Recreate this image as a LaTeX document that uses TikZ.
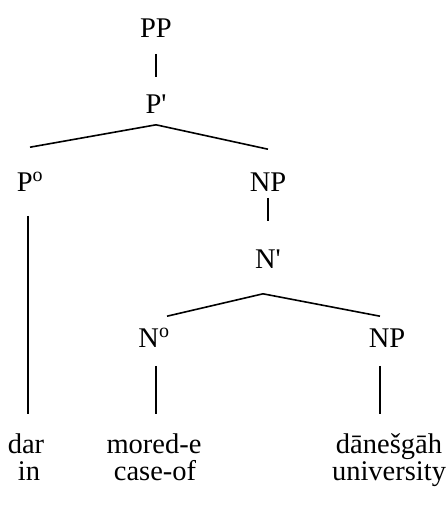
\documentclass[tikz,border=0pt]{standalone}
\usepackage{fontspec}
\setmainfont{Liberation Serif}
\usepackage{tikz}

\begin{document}
\begin{tikzpicture}[x=1pt, y=-1pt, line width=1.6pt,
    lbl/.style={inner sep=0pt, anchor=base, text height=20pt, text depth=0pt,
                font=\fontsize{28.5}{34}\selectfont}]
    % Canvas
    \useasboundingbox (0,0) rectangle (446,507);

    % Category labels
    \node[lbl] (pp)  at (156,37)  {PP};
    \node[lbl] (p1)  at (156,113) {P\textquotesingle};
    \node[lbl] (p0)  at (30,191)  {P\textsuperscript{o}};
    \node[lbl] (np1) at (268,191) {NP};
    \node[lbl] (n1)  at (268,268) {N\textquotesingle};
    \node[lbl] (n0)  at (154,347) {N\textsuperscript{o}};
    \node[lbl] (np2) at (387,347) {NP};

    % Words
    \node[lbl] (w1) at (26,453)  {dar};
    \node[lbl] (w2) at (154,453) {mored-e};
    \node[lbl] (w3) at (389,453) {dānešgāh};

    % Glosses
    \node[lbl] (g1) at (29,480)  {in};
    \node[lbl] (g2) at (155,480) {case-of};
    \node[lbl] (g3) at (389,480) {university};

    % Branches
    \draw ([yshift=-16pt]pp.south) -- ([yshift=15pt]p1.north);
    \draw ([yshift=-11pt]p1.south) -- ([yshift=23pt]p0.north);
    \draw ([yshift=-11pt]p1.south) -- ([yshift=21pt]np1.north);
    \draw ([yshift=-6pt]np1.south) -- ([yshift=26pt]n1.north);
    \draw ([shift={(-5pt,-25pt)}]n1.south) -- ([shift={(13pt,10pt)}]n0.north);
    \draw ([shift={(-5pt,-25pt)}]n1.south) -- ([shift={(-7pt,10pt)}]np2.north);

    % Terminal lines
    \draw ([shift={(-2pt,-24pt)}]p0.south) -- ++(0,198);
    \draw ([shift={(2pt,-18pt)}]n0.south) -- ++(0,48);
    \draw ([shift={(-7pt,-18pt)}]np2.south) -- ++(0,48);
\end{tikzpicture}
\end{document}
